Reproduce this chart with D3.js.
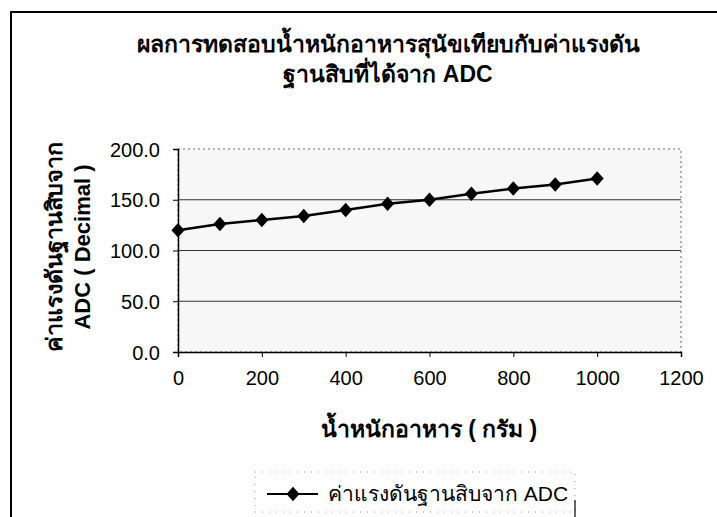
<!DOCTYPE html>
<html>
<head>
<meta charset="utf-8">
<script src="https://cdn.jsdelivr.net/npm/d3@7"></script>
<style>
  html, body { margin: 0; padding: 0; background: #fff; }
  svg { display: block; }
  text { font-family: Arial, "Liberation Sans", "Noto Sans", sans-serif; fill: #000; }
</style>
</head>
<body>
<svg id="chart" width="717" height="517"></svg>
<script>
// ---- data ----
const titleLines = ["ผลการทดสอบน้ำหนักอาหารสุนัขเทียบกับค่าแรงดัน", "ฐานสิบที่ได้จาก ADC"];
const yTitleLines = ["ค่าแรงดันฐานสิบจาก", "ADC ( Decimal )"];
const xTitle = "น้ำหนักอาหาร ( กรัม )";
const seriesName = "ค่าแรงดันฐานสิบจาก ADC";
const weights = [0, 100, 200, 300, 400, 500, 600, 700, 800, 900, 1000];
const adcValues = [120, 126, 130, 134, 140, 146, 150, 156, 161, 165, 171];
const xTicks = [0, 200, 400, 600, 800, 1000, 1200];
const yTicks = [0, 50, 100, 150, 200];

// ---- layout ----
const svg = d3.select("#chart");
const plot = { left: 178, right: 681, top: 149, bottom: 352 };

const x = d3.scaleLinear().domain([0, 1200]).range([plot.left, plot.right]);
const y = d3.scaleLinear().domain([0, 200]).range([plot.bottom, plot.top]);

// Excel-like diamond marker (about as wide as tall)
const excelDiamond = {
  draw(ctx, size) {
    const h = Math.sqrt(size) / 2, w = h * 0.9;
    ctx.moveTo(0, -h); ctx.lineTo(w, 0); ctx.lineTo(0, h); ctx.lineTo(-w, 0); ctx.closePath();
  }
};
const diamond = d3.symbol().type(excelDiamond).size(210);

// chart frame (cropped at right/bottom)
svg.append("path")
  .attr("d", `M11,520 L11,12 L720,12`)
  .attr("fill", "none").attr("stroke", "#000").attr("stroke-width", 2);

// title
const title = svg.append("text")
  .attr("text-anchor", "middle")
  .style("font-size", "23px").style("font-weight", "bold");
titleLines.forEach((t, i) => {
  title.append("tspan").attr("x", 388).attr("y", 52 + i * 30).text(t);
});

// plot area border (dotted top/right)
svg.append("rect")
  .attr("x", plot.left).attr("y", plot.top)
  .attr("width", plot.right - plot.left).attr("height", plot.bottom - plot.top)
  .attr("fill", "#f7f7f7")
  .attr("stroke", "#666").attr("stroke-width", 1).attr("stroke-dasharray", "2,3");

// gridlines
svg.append("g")
  .selectAll("line")
  .data(yTicks.filter(v => v > 0 && v < 200))
  .join("line")
  .attr("x1", plot.left).attr("x2", plot.right)
  .attr("y1", d => y(d)).attr("y2", d => y(d))
  .attr("stroke", "#333").attr("stroke-width", 1.2);

// axes
const xAxis = svg.append("g")
  .attr("transform", `translate(0,${plot.bottom})`)
  .call(d3.axisBottom(x).tickValues(xTicks).tickSize(5).tickPadding(20).tickFormat(d3.format("d")));
const yAxis = svg.append("g")
  .attr("transform", `translate(${plot.left},0)`)
  .call(d3.axisLeft(y).tickValues(yTicks).tickSize(5).tickPadding(13).tickFormat(d3.format(".1f")));
[xAxis, yAxis].forEach(a => {
  a.select(".domain").attr("stroke", "#000").attr("stroke-width", 1.5);
  a.selectAll(".tick line").attr("stroke", "#000");
  a.selectAll(".tick text")
    .style("font-size", "20px")
    .style("font-family", "Arial, 'Liberation Sans', sans-serif")
    .attr("fill", "#000");
});
xAxis.selectAll(".tick text").attr("dy", "0.4em");
yAxis.selectAll(".tick text").attr("dy", "0.36em");

// axis titles
const yt = svg.append("g").attr("transform", `translate(0,247) rotate(-90)`);
yt.append("text")
  .attr("x", 0).attr("y", 62)
  .attr("text-anchor", "middle")
  .attr("textLength", 209).attr("lengthAdjust", "spacingAndGlyphs")
  .style("font-size", "22px").style("font-weight", "bold")
  .text(yTitleLines[0]);
yt.append("text")
  .attr("x", 0).attr("y", 90)
  .attr("text-anchor", "middle")
  .style("font-size", "22px").style("font-weight", "bold")
  .text(yTitleLines[1]);

svg.append("text")
  .attr("x", 429).attr("y", 437)
  .attr("text-anchor", "middle")
  .style("font-size", "23px").style("font-weight", "bold")
  .text(xTitle);

// series line
const line = d3.line().x((d, i) => x(weights[i])).y(d => y(d));
svg.append("path")
  .datum(adcValues)
  .attr("d", line)
  .attr("fill", "none").attr("stroke", "#000").attr("stroke-width", 2.5);

svg.append("g")
  .selectAll("path")
  .data(adcValues)
  .join("path")
  .attr("d", diamond)
  .attr("transform", (d, i) => `translate(${x(weights[i])},${y(d)})`)
  .attr("fill", "#000");

// legend
const lg = svg.append("g");
lg.append("rect")
  .attr("x", 255).attr("y", 472).attr("width", 320).attr("height", 40)
  .attr("fill", "none").attr("stroke", "#999").attr("stroke-width", 1).attr("stroke-dasharray", "1,6");
lg.append("line")
  .attr("x1", 575).attr("x2", 575).attr("y1", 500).attr("y2", 517)
  .attr("stroke", "#000").attr("stroke-width", 1.2);
lg.append("line")
  .attr("x1", 267).attr("x2", 318).attr("y1", 494).attr("y2", 494)
  .attr("stroke", "#000").attr("stroke-width", 2);
lg.append("path")
  .attr("d", diamond)
  .attr("transform", "translate(293,494)")
  .attr("fill", "#000");
lg.append("text")
  .attr("x", 328).attr("y", 501)
  .style("font-size", "21px")
  .text(seriesName);
</script>
</body>
</html>
